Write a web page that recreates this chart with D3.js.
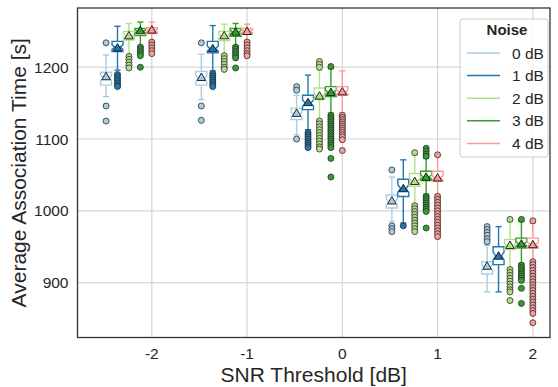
<!DOCTYPE html>
<html>
<head>
<meta charset="utf-8">
<script src="https://cdn.jsdelivr.net/npm/d3@7"></script>
<style>
  body { margin: 0; background: #fff; }
  svg { font-family: "Liberation Sans", Arial, sans-serif; }
</style>
</head>
<body>
<div id="chart"></div>
<script>
// SNR thresholds on the x axis
const thresholds = [-2, -1, 0, 1, 2];
const noiseLabels = ['0 dB', '1 dB', '2 dB', '3 dB', '4 dB'];
const xTicks = [-2, -1, 0, 1, 2];
const yTicks = [900, 1000, 1100, 1200];

// box stats per threshold: [whiskerLow, q1, median, q3, whiskerHigh, mean]
const stats0dB = [
  [1159, 1175, 1185, 1193, 1217, 1186],
  [1155, 1175, 1184, 1194, 1218, 1185],
  [1106, 1127, 1134, 1143, 1161, 1135],
  [985, 1004, 1012, 1022, 1047, 1013],
  [887, 912, 921, 929, 952, 922]
];
const stats1dB = [
  [1196, 1222, 1228, 1236, 1257, 1226],
  [1195, 1220, 1226, 1236, 1258, 1225],
  [1113, 1141, 1150, 1161, 1189, 1150],
  [983, 1020, 1031, 1044, 1071, 1030],
  [887, 925, 937, 950, 978, 936]
];
const stats2dB = [
  [1218, 1238, 1244, 1250, 1261, 1243],
  [1218, 1237, 1243, 1250, 1260, 1243],
  [1127, 1155, 1160, 1171, 1196, 1159],
  [1010, 1034, 1041, 1052, 1078, 1040],
  [921, 946, 951, 960, 985, 951]
];
const stats3dB = [
  [1229, 1244, 1250, 1254, 1263, 1250],
  [1230, 1243, 1249, 1254, 1261, 1248],
  [1136, 1159, 1165, 1173, 1198, 1164],
  [1023, 1042, 1047, 1055, 1073, 1046],
  [927, 948, 954, 962, 985, 953]
];
const stats4dB = [
  [1237, 1247, 1251, 1255, 1263, 1251],
  [1237, 1246, 1250, 1254, 1260, 1249],
  [1136, 1161, 1165, 1173, 1195, 1165],
  [1023, 1041, 1046, 1055, 1076, 1045],
  [931, 948, 953, 962, 983, 952]
];

// outlier points per threshold
const fliers0dB = [
  [1234, 1146, 1125],
  [1234, 1146, 1126],
  [1173, 1168, 1100],
  [1057, 979, 975, 971],
  [978, 974, 970, 966, 961, 957]
];
const fliers1dB = [
  [1190, 1187, 1184, 1181, 1178, 1175, 1173],
  [1191, 1188, 1185, 1182, 1179, 1176, 1173],
  [1109, 1106, 1103, 1100, 1097, 1094, 1091, 1088],
  [979],
  []
];
const fliers2dB = [
  [1215, 1211, 1207, 1203, 1199],
  [1216, 1212, 1208, 1204, 1200, 1197],
  [1208, 1204, 1200, 1125, 1121, 1117, 1113, 1109, 1105, 1101, 1097, 1093, 1089, 1086],
  [1081, 1007, 1003, 999, 995, 991, 987, 983, 979, 975, 971],
  [988, 918, 914, 910, 906, 902, 898, 894, 890, 887, 875]
];
const fliers3dB = [
  [1228, 1225, 1222, 1219, 1216, 1200],
  [1228, 1225, 1222, 1219, 1216, 1213, 1199],
  [1201, 1133, 1130, 1127, 1124, 1121, 1118, 1115, 1112, 1109, 1106, 1103, 1100, 1097, 1094, 1091, 1088, 1073, 1047],
  [1087, 1083, 1079, 1076, 1020, 1017, 1014, 1011, 1008, 1005, 1002, 999, 976],
  [988, 924, 921, 918, 915, 912, 909, 906, 903, 892, 871]
];
const fliers4dB = [
  [1235, 1231, 1227, 1223, 1219],
  [1235, 1231, 1227, 1223, 1219, 1216],
  [1133, 1130, 1127, 1124, 1121, 1118, 1115, 1112, 1109, 1106, 1103, 1099, 1084],
  [1078, 1020, 1016, 1012, 1008, 1004, 1000, 996, 992, 988, 984, 980, 976, 972, 968, 964],
  [986, 929, 925, 921, 917, 913, 909, 905, 901, 897, 893, 889, 885, 881, 877, 873, 869, 865, 861, 857, 844]
];

const colors = ['#a6cee3', '#1f78b4', '#b2df8a', '#33a02c', '#fb9a99'];
const allStats = [stats0dB, stats1dB, stats2dB, stats3dB, stats4dB];
const allFliers = [fliers0dB, fliers1dB, fliers2dB, fliers3dB, fliers4dB];

const width = 558, height = 387;
const margin = { top: 8, right: 8, bottom: 49.5, left: 77.5 };

const svg = d3.select('#chart').append('svg')
  .attr('width', width)
  .attr('height', height);

const x = d3.scaleLinear()
  .domain([-2.78, 2.18])
  .range([margin.left, width - margin.right]);

const y = d3.scaleLinear()
  .domain([823.5, 1282.5])
  .range([height - margin.bottom, margin.top]);

// grid
svg.append('g')
  .selectAll('line.vgrid')
  .data(xTicks)
  .enter().append('line')
  .attr('x1', d => x(d)).attr('x2', d => x(d))
  .attr('y1', margin.top).attr('y2', height - margin.bottom)
  .attr('stroke', '#d6d6d6').attr('stroke-width', 1.2);

svg.append('g')
  .selectAll('line.hgrid')
  .data(yTicks)
  .enter().append('line')
  .attr('x1', margin.left).attr('x2', width - margin.right)
  .attr('y1', d => y(d)).attr('y2', d => y(d))
  .attr('stroke', '#d6d6d6').attr('stroke-width', 1.2);

// boxes
const hueStep = 0.12;
const boxW = x(0.115) - x(0);
const capW = x(0.065) - x(0);

allStats.forEach((series, n) => {
  const color = colors[n];
  series.forEach((s, i) => {
    const [lo, q1, med, q3, hi, mean] = s;
    const cx = x(thresholds[i] + (n - 4) * hueStep);
    const g = svg.append('g');
    const left = cx - boxW / 2, right = cx + boxW / 2;
    const notch = 0.22 * (q3 - q1);
    const path = d3.path();
    path.moveTo(left, y(q1));
    path.lineTo(right, y(q1));
    path.lineTo(right, y(med - notch));
    path.lineTo(cx + boxW / 4, y(med));
    path.lineTo(right, y(med + notch));
    path.lineTo(right, y(q3));
    path.lineTo(left, y(q3));
    path.lineTo(left, y(med + notch));
    path.lineTo(cx - boxW / 4, y(med));
    path.lineTo(left, y(med - notch));
    path.closePath();

    // whiskers + caps
    g.append('line')
      .attr('x1', cx).attr('x2', cx)
      .attr('y1', y(q3)).attr('y2', y(hi))
      .attr('stroke', color).attr('stroke-width', 1.4);
    g.append('line')
      .attr('x1', cx).attr('x2', cx)
      .attr('y1', y(q1)).attr('y2', y(lo))
      .attr('stroke', color).attr('stroke-width', 1.4);
    [lo, hi].forEach(v => {
      g.append('line')
        .attr('x1', cx - capW / 2).attr('x2', cx + capW / 2)
        .attr('y1', y(v)).attr('y2', y(v))
        .attr('stroke', color).attr('stroke-width', 1.4);
    });

    g.append('path')
      .attr('d', path.toString())
      .attr('fill', '#fff')
      .attr('stroke', color)
      .attr('stroke-width', 1.4);

    g.append('line')
      .attr('x1', cx - boxW / 4).attr('x2', cx + boxW / 4)
      .attr('y1', y(med)).attr('y2', y(med))
      .attr('stroke', color).attr('stroke-width', 1.4);

    // outliers
    g.selectAll('circle')
      .data(allFliers[n][i])
      .enter().append('circle')
      .attr('cx', cx)
      .attr('cy', d => y(d))
      .attr('r', 3)
      .attr('fill', color)
      .attr('stroke', '#2b2b2b')
      .attr('stroke-width', 0.8);

    // mean
    g.append('path')
      .attr('d', d3.symbol(d3.symbolTriangle, 32)())
      .attr('transform', `translate(${cx},${y(mean)})`)
      .attr('fill', color)
      .attr('stroke', '#111')
      .attr('stroke-width', 0.9);
  });
});

// frame
svg.append('rect')
  .attr('x', margin.left).attr('y', margin.top)
  .attr('width', width - margin.left - margin.right)
  .attr('height', height - margin.top - margin.bottom)
  .attr('fill', 'none')
  .attr('stroke', '#333')
  .attr('stroke-width', 1.3);

// tick labels
svg.append('g')
  .selectAll('text')
  .data(xTicks)
  .enter().append('text')
  .attr('x', d => x(d))
  .attr('y', height - margin.bottom + 21)
  .attr('text-anchor', 'middle')
  .attr('font-size', 15.5)
  .attr('fill', '#262626')
  .text(d => d);

svg.append('g')
  .selectAll('text')
  .data(yTicks)
  .enter().append('text')
  .attr('x', margin.left - 9)
  .attr('y', d => y(d) + 5.5)
  .attr('text-anchor', 'end')
  .attr('font-size', 15.5)
  .attr('fill', '#262626')
  .text(d => d);

// axis titles
svg.append('text')
  .attr('x', (margin.left + width - margin.right) / 2)
  .attr('y', 382)
  .attr('text-anchor', 'middle')
  .attr('font-size', 21)
  .attr('fill', '#262626')
  .text('SNR Threshold [dB]');

svg.append('text')
  .attr('transform', `translate(26,${(margin.top + height - margin.bottom) / 2}) rotate(-90)`)
  .attr('text-anchor', 'middle')
  .attr('font-size', 21)
  .attr('fill', '#262626')
  .text('Average Association Time [s]');

// legend
const legend = svg.append('g').attr('transform', 'translate(460,19)');
legend.append('rect')
  .attr('width', 88).attr('height', 138)
  .attr('rx', 3)
  .attr('fill', '#fff')
  .attr('fill-opacity', 0.85)
  .attr('stroke', '#ccc');
legend.append('text')
  .attr('x', 47).attr('y', 15.5)
  .attr('text-anchor', 'middle')
  .attr('font-size', 15)
  .attr('font-weight', 'bold')
  .attr('fill', '#262626')
  .text('Noise');
noiseLabels.forEach((lab, i) => {
  const ly = 34 + i * 22.6;
  legend.append('line')
    .attr('x1', 7).attr('x2', 40)
    .attr('y1', ly).attr('y2', ly)
    .attr('stroke', colors[i]).attr('stroke-width', 1.5);
  legend.append('text')
    .attr('x', 52).attr('y', ly + 5.5)
    .attr('font-size', 15.5)
    .attr('fill', '#262626')
    .text(lab);
});
</script>
</body>
</html>
